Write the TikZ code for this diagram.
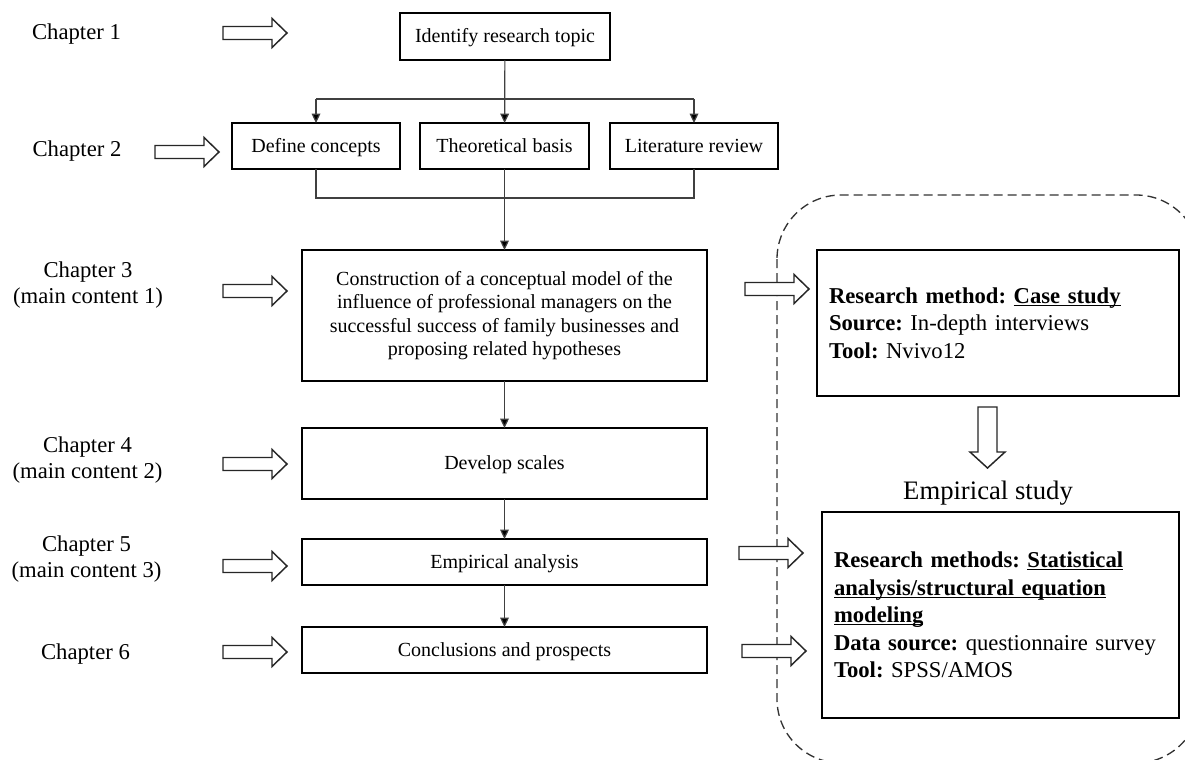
\documentclass[tikz,border=0pt]{standalone}
\usepackage{fontspec}
\setmainfont{Liberation Serif}
\usetikzlibrary{arrows.meta}
\frenchspacing
\newcommand\myul[1]{\underline{\raisebox{0pt}[\height][0pt]{#1}}}
\begin{document}
\begin{tikzpicture}[x=0.75pt,y=-0.75pt,
  lab/.style={align=center,inner sep=0pt,font=\fontsize{17}{19.5}\selectfont},
  flowbox/.style={draw=black,line width=1.5pt,fill=white,inner sep=0pt,outer sep=0pt,align=center,font=\fontsize{15}{17.5}\selectfont},
  oneline/.style={flowbox,text height=11pt,text depth=2pt},
  infobox/.style={draw=black,line width=1.5pt,fill=white,outer sep=0pt,inner xsep=9pt,inner ysep=0pt,align=left,font=\fontsize{17}{20.6}\selectfont},
  conn/.style={draw=black!75,line width=0.9pt},
  tipconn/.style={conn,-{Triangle[length=7pt,width=6.5pt,fill=black]}},
  blockarrow/.style={draw=black!85,line width=1.1pt,fill=white,line join=miter},
  dashedframe/.style={draw=black!80,line width=1pt,dash pattern=on 6.75pt off 3.75pt,rounded corners=48pt},
  pics/barr/.style={code={\path[blockarrow] (0,-6.5) -- (49,-6.5) -- (49,-14.5) -- (64,0) -- (49,14.5) -- (49,6.5) -- (0,6.5) -- cycle;}},
  pics/darr/.style={code={\path[blockarrow] (-9.5,0) -- (9.5,0) -- (9.5,45) -- (17.5,45) -- (0,61) -- (-17.5,45) -- (-9.5,45) -- cycle;}}
]
\useasboundingbox (0,0) rectangle (1185,760);
\clip (0,0) rectangle (1185,760);
\fill[white] (0,0) rectangle (1185,760);

% dashed frame
\path[dashedframe] (777,195) rectangle (1200,763);

% chapter labels
\node[lab] (c1) at (76.5,34) {Chapter 1};
\node[lab] (c2) at (77,151) {Chapter 2};
\node[lab] (c3) at (88,285) {Chapter 3\\(main content 1)};
\node[lab] (c4) at (87.5,460) {Chapter 4\\(main content 2)};
\node[lab] (c5) at (86.5,559) {Chapter 5\\(main content 3)};
\node[lab] (c6) at (85.5,654) {Chapter 6};

% block arrows
\pic at (223,33) {barr};
\pic at (155,152) {barr};
\pic at (223,291) {barr};
\pic at (223,464) {barr};
\pic at (223,566) {barr};
\pic at (223,652) {barr};
\pic at (745,289) {barr};
\pic at (739,553) {barr};
\pic at (742,651) {barr};
\pic at (987.5,407) {darr};

% flow boxes
\node[oneline,minimum width=157.5pt,minimum height=35.25pt] (identify) at (505,36.5) {Identify research topic};
\node[oneline,minimum width=126pt,minimum height=34.5pt] (define) at (316,146) {Define concepts};
\node[oneline,minimum width=126.75pt,minimum height=34.5pt] (theory) at (504.5,146) {Theoretical basis};
\node[oneline,minimum width=126pt,minimum height=34.5pt] (lit) at (694,146) {Literature review};
\node[flowbox,minimum width=303.75pt,minimum height=98.25pt] (construct) at (504.5,315.5) {Construction of a conceptual model of the\\influence of professional managers on the\\successful success of family businesses and\\proposing related hypotheses};
\node[oneline,minimum width=303.75pt,minimum height=53.25pt] (develop) at (504.5,463.5) {Develop scales};
\node[oneline,minimum width=303.75pt,minimum height=34.5pt] (empan) at (504.5,562) {Empirical analysis};
\node[oneline,minimum width=303.75pt,minimum height=34.5pt] (concl) at (504.5,650) {Conclusions and prospects};

% right boxes
\node[infobox,text width=253.5pt,minimum height=109.5pt] (case) at (998,323) {\textbf{Research method: \myul{Case study}}\\\textbf{Source:} In-depth interviews\\\textbf{Tool:} Nvivo12};
\node[lab,font=\fontsize{20}{24}\selectfont] (emp) at (988,493) {Empirical study};
\node[infobox,text width=249.75pt,minimum height=154.5pt] (stat) at (1000.5,615) {\textbf{Research methods: \myul{Statistical}}\\\textbf{\myul{analysis/structural equation}}\\\textbf{\myul{modeling}}\\\textbf{Data source:} questionnaire survey\\\textbf{Tool:} SPSS/AMOS};

% connectors
\coordinate (bl) at (316,99);
\coordinate (br) at (694,99);
\coordinate (ml) at (316,198);
\coordinate (mr) at (694,198);
\draw[conn] (bl) -- (br);
\draw[tipconn] (identify) -- (theory);
\draw[tipconn] (bl) -- (define);
\draw[tipconn] (br) -- (lit);
\draw[conn] (define.south) -- (ml) -- (mr) -- (lit.south);
\draw[tipconn] (theory) -- (construct);
\draw[tipconn] (construct) -- (develop);
\draw[tipconn] (develop) -- (empan);
\draw[tipconn] (empan) -- (concl);
\end{tikzpicture}
\end{document}
